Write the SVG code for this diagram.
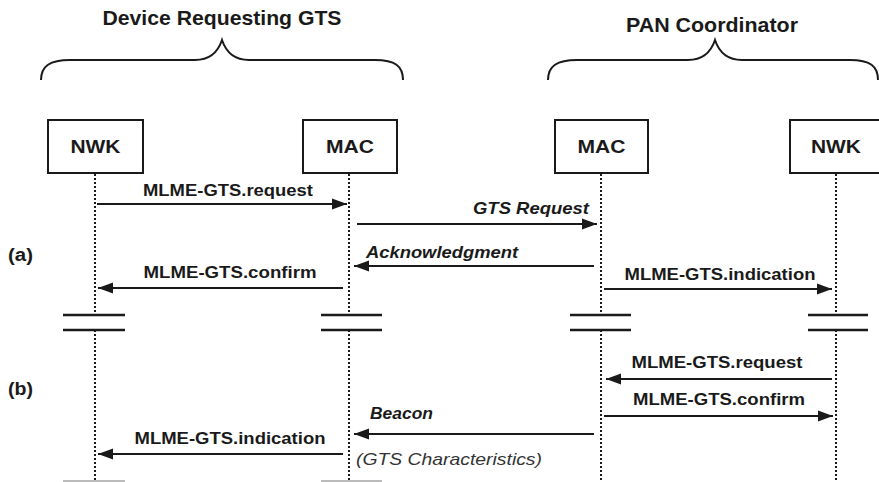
<svg xmlns="http://www.w3.org/2000/svg" width="879" height="482" viewBox="0 0 879 482">
<style>
text{font-family:"Liberation Sans",Arial,sans-serif;fill:#1a1a1a}
.hdr{font-size:21px;font-weight:bold;text-anchor:middle}
.box{fill:#fff;stroke:#1a1a1a;stroke-width:2}
.bl{font-size:18px;font-weight:bold;text-anchor:middle}
.lbl{font-size:17px;font-weight:bold;text-anchor:middle}
.it{font-size:17px;font-weight:bold;font-style:italic}
.note{font-size:16.5px;font-style:italic;fill:#333}
.ph{font-size:18px;font-weight:bold}
.life{stroke:#1a1a1a;stroke-width:2;stroke-dasharray:2 2;fill:none}
.brk{stroke:#1a1a1a;stroke-width:2.5}
.arr{stroke:#1a1a1a;stroke-width:2;fill:none;marker-end:url(#ah)}
.brace{fill:none;stroke:#1a1a1a;stroke-width:2}
</style>
<defs>
<marker id="ah" markerUnits="userSpaceOnUse" markerWidth="16" markerHeight="12" refX="15" refY="6" orient="auto">
<path d="M0,0.5 L15,6 L0,11.5 Z" fill="#1a1a1a"/>
</marker>
</defs>

<g id="headers">
<text class="hdr" x="222" y="25" textLength="239" lengthAdjust="spacingAndGlyphs">Device Requesting GTS</text>
<path class="brace" d="M41,80 C41,66 50,60 70,60 L195,60 C210,60 218,52 222,40 C226,52 234,60 249,60 L375,60 C395,60 403,66 403,80"/>
<text class="hdr" x="712" y="32" textLength="172" lengthAdjust="spacingAndGlyphs">PAN Coordinator</text>
<path class="brace" d="M548,80 C548,66 557,60 577,60 L688,60 C703,60 711,52 715,40 C719,52 727,60 742,60 L850,60 C870,60 878,66 878,80"/>
</g>

<g id="phase-labels">
<text class="ph" x="8" y="261" textLength="25" lengthAdjust="spacingAndGlyphs">(a)</text>
<text class="ph" x="8" y="395" textLength="25" lengthAdjust="spacingAndGlyphs">(b)</text>
</g>

<g id="nwk-dev">
<rect class="box" x="48" y="120" width="95" height="53"/>
<text class="bl" x="95.5" y="153" textLength="50" lengthAdjust="spacingAndGlyphs">NWK</text>
<path class="life" d="M95,174 V315 M95,330 V482"/>
<path class="brk" d="M63,315 H125 M63,330 H125"/>
<path d="M63,481 H125" stroke="#bbb" stroke-width="2"/>
</g>

<g id="mac-dev">
<rect class="box" x="303" y="120" width="94" height="53"/>
<text class="bl" x="350" y="153" textLength="48" lengthAdjust="spacingAndGlyphs">MAC</text>
<path class="life" d="M349,174 V315 M349,330 V482"/>
<path class="brk" d="M321,315 H382 M321,330 H382"/>
<path d="M321,481 H382" stroke="#bbb" stroke-width="2"/>
</g>

<g id="mac-pan">
<rect class="box" x="555" y="120" width="93" height="53"/>
<text class="bl" x="601.5" y="153" textLength="48" lengthAdjust="spacingAndGlyphs">MAC</text>
<path class="life" d="M601,174 V315 M601,330 V482"/>
<path class="brk" d="M570,315 H631 M570,330 H631"/>
</g>

<g id="nwk-pan">
<rect class="box" x="790" y="120" width="92" height="53"/>
<text class="bl" x="836" y="153" textLength="50" lengthAdjust="spacingAndGlyphs">NWK</text>
<path class="life" d="M836,174 V315 M836,330 V482"/>
<path class="brk" d="M808,315 H868 M808,330 H868"/>
</g>

<g id="connectors">
<line class="arr" x1="97" y1="204" x2="347" y2="204"/>
<line class="arr" x1="357" y1="224" x2="597" y2="224"/>
<line class="arr" x1="594" y1="266" x2="354" y2="266"/>
<line class="arr" x1="343" y1="288" x2="98" y2="288"/>
<line class="arr" x1="604" y1="289" x2="832" y2="289"/>
<line class="arr" x1="832" y1="379" x2="606" y2="379"/>
<line class="arr" x1="604" y1="416" x2="833" y2="416"/>
<line class="arr" x1="594" y1="434" x2="354" y2="434"/>
<line class="arr" x1="343" y1="454" x2="98" y2="454"/>
</g>

<g id="labels">
<text class="lbl" x="228" y="196" textLength="170" lengthAdjust="spacingAndGlyphs">MLME-GTS.request</text>
<text class="it" x="589" y="214" text-anchor="end" textLength="116" lengthAdjust="spacingAndGlyphs">GTS Request</text>
<text class="it" x="366" y="258" textLength="152" lengthAdjust="spacingAndGlyphs">Acknowledgment</text>
<text class="lbl" x="230" y="278" textLength="173" lengthAdjust="spacingAndGlyphs">MLME-GTS.confirm</text>
<text class="lbl" x="720" y="280" textLength="191" lengthAdjust="spacingAndGlyphs">MLME-GTS.indication</text>
<text class="lbl" x="717" y="368" textLength="171" lengthAdjust="spacingAndGlyphs">MLME-GTS.request</text>
<text class="lbl" x="719" y="405" textLength="172" lengthAdjust="spacingAndGlyphs">MLME-GTS.confirm</text>
<text class="it" x="370" y="419" textLength="63" lengthAdjust="spacingAndGlyphs">Beacon</text>
<text class="lbl" x="230" y="444" textLength="191" lengthAdjust="spacingAndGlyphs">MLME-GTS.indication</text>
<text class="note" x="356" y="465" textLength="186" lengthAdjust="spacingAndGlyphs">(GTS Characteristics)</text>
</g>
</svg>
